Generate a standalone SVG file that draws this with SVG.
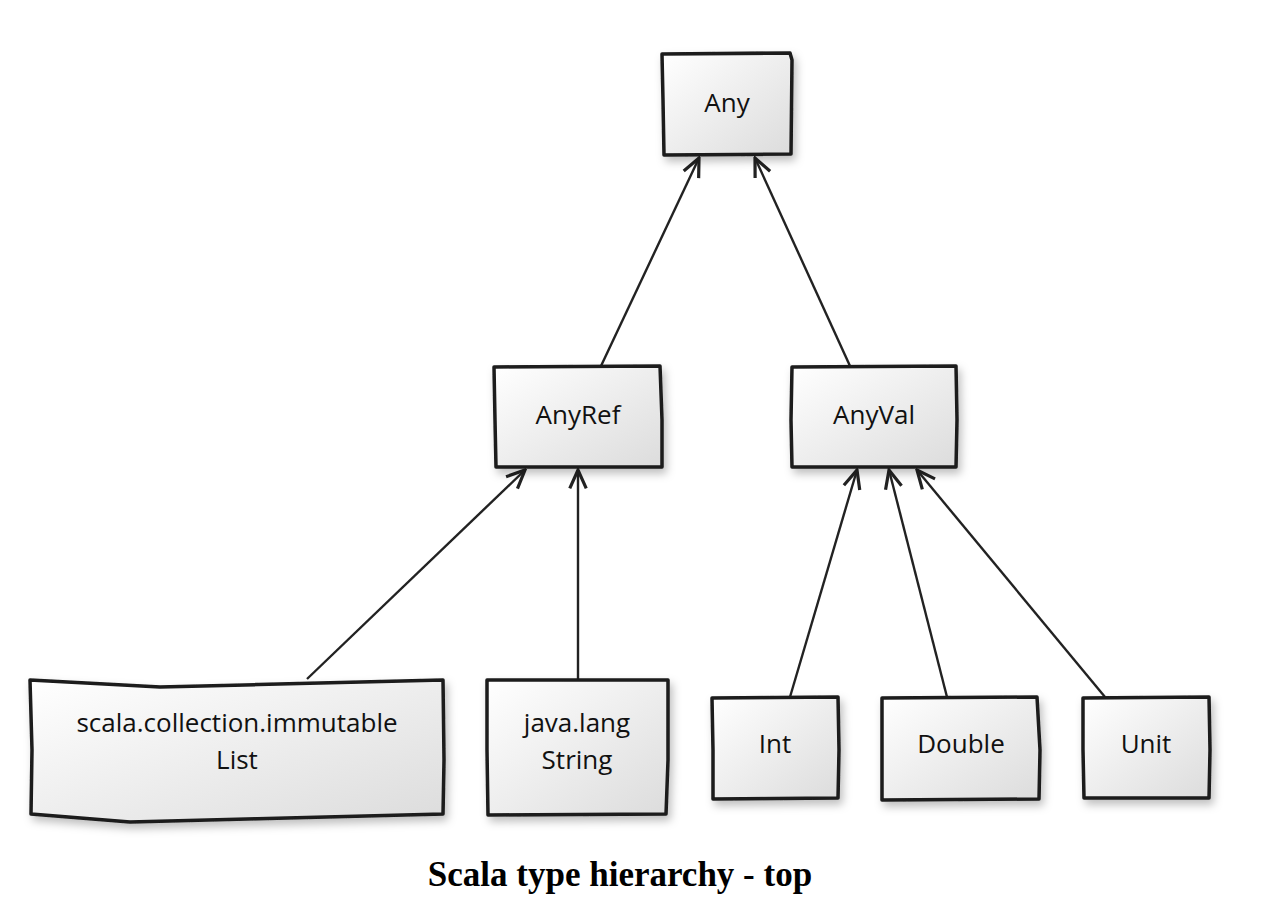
<svg xmlns="http://www.w3.org/2000/svg" width="1276" height="916" viewBox="0 0 1276 916">
<style>
.box{fill:url(#g);stroke:#1a1a1a;stroke-width:3.5;stroke-linejoin:round;filter:url(#sh)}
.lbl{font-family:"Open Sans","DejaVu Sans",sans-serif;font-size:26px;fill:#111;text-anchor:middle}
.edge{stroke:#222;stroke-width:2.4;fill:none;marker-end:url(#arr)}
.cap{font-family:"Liberation Serif",serif;font-weight:bold;font-size:35px;fill:#000;text-anchor:middle}
</style>
<defs>
<linearGradient id="g" x1="0" y1="0" x2="1" y2="1">
<stop offset="0" stop-color="#ffffff"/>
<stop offset="1" stop-color="#dcdcdc"/>
</linearGradient>
<filter id="sh" x="-10%" y="-10%" width="130%" height="140%">
<feDropShadow dx="3" dy="5" stdDeviation="4" flood-color="#000" flood-opacity="0.25"/>
</filter>
<marker id="arr" viewBox="0 0 24 24" refX="22" refY="12" markerWidth="22" markerHeight="22" markerUnits="userSpaceOnUse" orient="auto">
<path d="M2,3 L22,12 L2,21" fill="none" stroke="#222" stroke-width="3.5" stroke-linejoin="miter"/>
</marker>
</defs>
<rect width="1276" height="916" fill="#fff"/>
<g id="connectors">
<line class="edge" x1="601" y1="366" x2="699" y2="158"/>
<line class="edge" x1="850" y1="366" x2="755" y2="158"/>
<line class="edge" x1="307" y1="679" x2="525" y2="470"/>
<line class="edge" x1="578" y1="679" x2="578" y2="470"/>
<line class="edge" x1="790" y1="697" x2="857" y2="470"/>
<line class="edge" x1="947" y1="697" x2="889" y2="470"/>
<line class="edge" x1="1105" y1="697" x2="917" y2="470"/>
</g>
<g id="node-any">
<path class="box" d="M662,54 L790,53 L792,60 L791,154 L664,155 L663,100 Z"/>
<text class="lbl" x="727" y="112">Any</text>
</g>
<g id="node-anyref">
<path class="box" d="M494,367 L660,366 L662,420 L662,467 L496,467 L495,420 Z"/>
<text class="lbl" x="578" y="424">AnyRef</text>
</g>
<g id="node-anyval">
<path class="box" d="M792,367 L956,366 L957,420 L956,467 L792,467 L791,420 Z"/>
<text class="lbl" x="874" y="424">AnyVal</text>
</g>
<g id="node-list">
<path class="box" d="M30,680 L160,687 L443,680 L444,760 L443,814 L130,822 L31,814 L32,750 Z"/>
<text class="lbl" x="237" y="732">scala.collection.immutable</text>
<text class="lbl" x="237" y="769">List</text>
</g>
<g id="node-string">
<path class="box" d="M487,680 L668,680 L668,760 L666,814 L488,815 L487,750 Z"/>
<text class="lbl" x="577" y="732">java.lang</text>
<text class="lbl" x="577" y="769">String</text>
</g>
<g id="node-int">
<path class="box" d="M712,698 L838,697 L839,750 L838,798 L713,799 L713,750 Z"/>
<text class="lbl" x="775" y="753">Int</text>
</g>
<g id="node-double">
<path class="box" d="M882,698 L1037,697 L1040,750 L1039,799 L882,800 L882,750 Z"/>
<text class="lbl" x="961" y="753">Double</text>
</g>
<g id="node-unit">
<path class="box" d="M1083,698 L1209,697 L1210,750 L1209,798 L1084,798 L1083,750 Z"/>
<text class="lbl" x="1146" y="753">Unit</text>
</g>
<text class="cap" x="620" y="886">Scala type hierarchy - top</text>
</svg>
